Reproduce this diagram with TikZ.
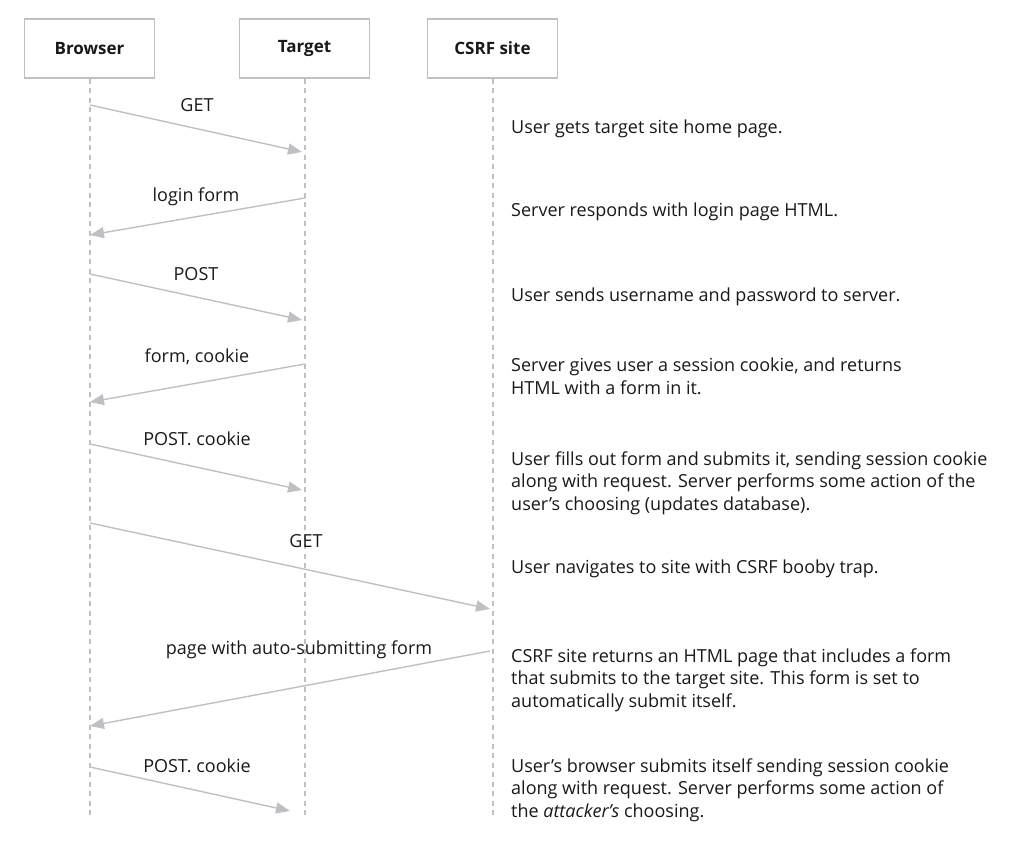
\documentclass[tikz,border=0pt]{standalone}
\usepackage{fontspec}
\setmainfont{Open Sans}
\usetikzlibrary{arrows.meta}
\definecolor{linegray}{RGB}{190,192,196}
\definecolor{txt}{RGB}{25,25,25}
\tikzset{
  actor/.style={draw=linegray, line width=1.3pt, minimum width=130pt, minimum height=59pt, inner sep=0pt, text=txt, font=\fontsize{17}{20}\selectfont\bfseries},
  lifeline/.style={draw=linegray, line width=1.2pt, dash pattern=on 5pt off 4.5pt},
  msg/.style={draw=linegray, line width=1.4pt, -{Triangle[length=14pt,width=11pt]}},
  lbl/.style={text=txt, font=\fontsize{18}{20}\selectfont, inner sep=0pt, anchor=base},
  note/.style={text=txt, font=\fontsize{18}{22.3}\selectfont, inner sep=0pt, anchor=base west, align=left},
}
\begin{document}
\begin{tikzpicture}[x=1pt,y=-1pt]
\useasboundingbox (0,0) rectangle (1012,867);
% actors
\node[actor] (br) at (89.5,48.5) {Browser};
\node[actor] (tg) at (304.5,48.5) {Target};
\node[actor] (cs) at (492.5,48.5) {CSRF site};
% lifeline ends
\coordinate (brE) at (90,818);
\coordinate (tgE) at (305,818);
\coordinate (csE) at (493,818);
\draw[lifeline] (br.south) ++(0.5,0) -- (brE);
\draw[lifeline] (tg.south) ++(0.5,0) -- (tgE);
\draw[lifeline] (cs.south) ++(0.5,0) -- (csE);
% message endpoints
\coordinate (b1) at (90,105);  \coordinate (t1) at (302,152);
\coordinate (t2) at (305,198); \coordinate (b2) at (90,235);
\coordinate (b3) at (90,274);  \coordinate (t3) at (302,320);
\coordinate (t4) at (305,364); \coordinate (b4) at (90,402);
\coordinate (b5) at (90,444);  \coordinate (t5) at (302,490);
\coordinate (b6) at (90,523);  \coordinate (c6) at (490,609);
\coordinate (c7) at (490,651); \coordinate (b7) at (90,726);
\coordinate (b8) at (90,767);  \coordinate (t8) at (290,811);
\draw[msg] (b1) -- (t1);
\draw[msg] (t2) -- (b2);
\draw[msg] (b3) -- (t3);
\draw[msg] (t4) -- (b4);
\draw[msg] (b5) -- (t5);
\draw[msg] (b6) -- (c6);
\draw[msg] (c7) -- (b7);
\draw[msg] (b8) -- (t8);
% message labels
\node[lbl] (l1) at (197,111) {GET};
\node[lbl] (l2) at (196,201) {login form};
\node[lbl] (l3) at (196,280) {POST};
\node[lbl] (l4) at (197,362) {form, cookie};
\node[lbl] (l5) at (197,445) {POST. cookie};
\node[lbl] (l6) at (306,547) {GET};
\node[lbl] (l7) at (299,654) {page with auto-submitting form};
\node[lbl] (l8) at (197,772) {POST. cookie};
% notes (anchor = baseline of the last line)
\node[note] (n1) at (511,133) {User gets target site home page.};
\node[note] (n2) at (511,216) {Server responds with login page HTML.};
\node[note] (n3) at (511,301) {User sends username and password to server.};
\node[note] (n4) at (511,394) {Server gives user a session cookie, and returns\\HTML with a form in it.};
\node[note] (n5) at (511,510) {User fills out form and submits it, sending session cookie\\along with request. Server performs some action of the\\user’s choosing (updates database).};
\node[note] (n6) at (511,573) {User navigates to site with CSRF booby trap.};
\node[note] (n7) at (511,707) {CSRF site returns an HTML page that includes a form\\that submits to the target site. This form is set to\\automatically submit itself.};
\node[note] (n8) at (511,817) {User’s browser submits itself sending session cookie\\along with request. Server performs some action of\\the \textit{attacker’s} choosing.};
\end{tikzpicture}
\end{document}
